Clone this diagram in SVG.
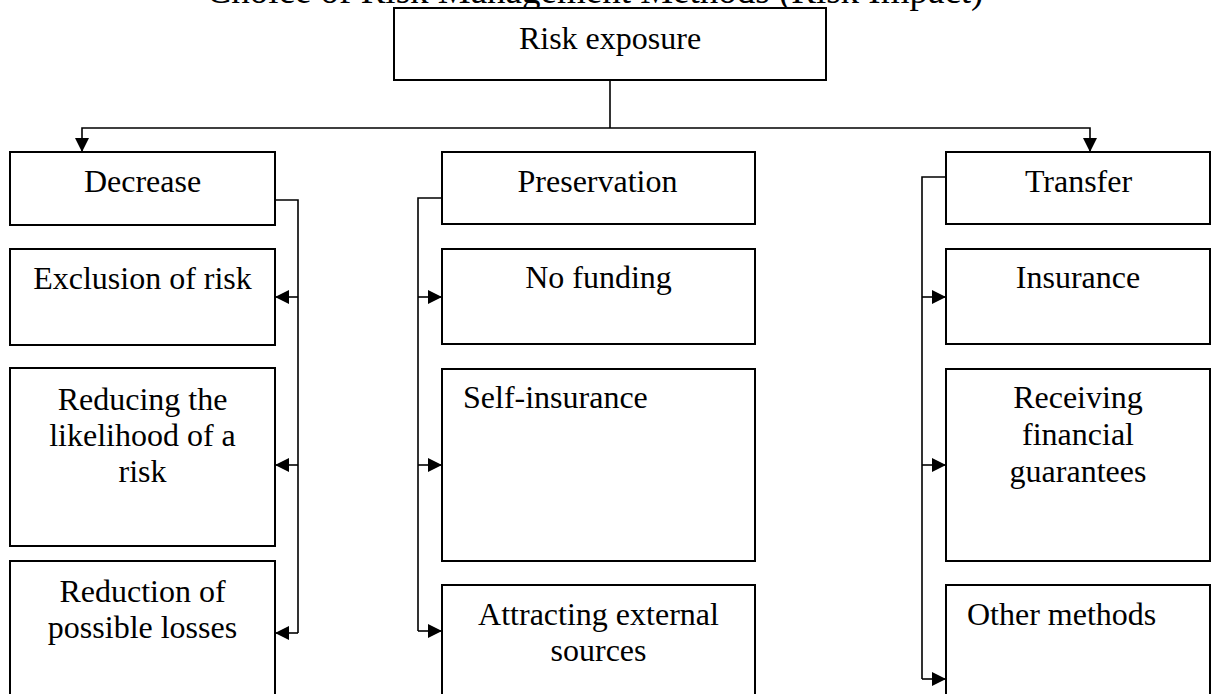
<svg xmlns="http://www.w3.org/2000/svg" width="1213" height="694" viewBox="0 0 1213 694">
  <style>
    .box { fill: #ffffff; stroke: #000000; stroke-width: 2; }
    .lbl { font-family: "Liberation Serif", "Times New Roman", serif; font-size: 32px; fill: #000000; }
    .mid { text-anchor: middle; }
    .title { font-family: "Liberation Serif", "Times New Roman", serif; font-size: 37px; fill: #000000; text-anchor: middle; }
    .wire { fill: none; stroke: #000000; stroke-width: 1.6; }
  </style>
  <defs>
    <marker id="arrow" viewBox="0 0 14 14" refX="14" refY="7" markerWidth="14" markerHeight="14" markerUnits="userSpaceOnUse" orient="auto">
      <path d="M0,0 L14,7 L0,14 Z" fill="#000000"/>
    </marker>
  </defs>
  <rect width="1213" height="694" fill="#ffffff"/>

  <text class="title" x="595" y="3">Choice of Risk Management Methods (Risk Impact)</text>

  <g id="connectors">
    <path class="wire" d="M610,80 V128"/>
    <path class="wire" d="M610,128 H82 V152" marker-end="url(#arrow)"/>
    <path class="wire" d="M610,128 H1090 V152" marker-end="url(#arrow)"/>

    <path class="wire" d="M275,200 H298 V633"/>
    <path class="wire" d="M298,297 H275" marker-end="url(#arrow)"/>
    <path class="wire" d="M298,465 H275" marker-end="url(#arrow)"/>
    <path class="wire" d="M298,633 H275" marker-end="url(#arrow)"/>

    <path class="wire" d="M442,198 H418 V631"/>
    <path class="wire" d="M418,297 H442" marker-end="url(#arrow)"/>
    <path class="wire" d="M418,465 H442" marker-end="url(#arrow)"/>
    <path class="wire" d="M418,631 H442" marker-end="url(#arrow)"/>

    <path class="wire" d="M946,177 H922 V679"/>
    <path class="wire" d="M922,297 H946" marker-end="url(#arrow)"/>
    <path class="wire" d="M922,465 H946" marker-end="url(#arrow)"/>
    <path class="wire" d="M922,679 H946" marker-end="url(#arrow)"/>
  </g>

  <g id="risk-exposure">
    <rect class="box" x="394" y="8" width="432" height="72"/>
    <text class="lbl mid" x="610" y="49">Risk exposure</text>
  </g>

  <g id="decrease">
    <rect class="box" x="10" y="152" width="265" height="73"/>
    <text class="lbl mid" x="142.5" y="192">Decrease</text>
  </g>
  <g id="preservation">
    <rect class="box" x="442" y="152" width="313" height="72"/>
    <text class="lbl mid" x="597.5" y="192">Preservation</text>
  </g>
  <g id="transfer">
    <rect class="box" x="946" y="152" width="264" height="72"/>
    <text class="lbl mid" x="1078.5" y="192">Transfer</text>
  </g>

  <g id="exclusion">
    <rect class="box" x="10" y="249" width="265" height="96"/>
    <text class="lbl mid" x="142.5" y="289">Exclusion of risk</text>
  </g>
  <g id="reducing-likelihood">
    <rect class="box" x="10" y="368" width="265" height="178"/>
    <text class="lbl mid" x="142.5" y="410">Reducing the</text>
    <text class="lbl mid" x="142.5" y="446">likelihood of a</text>
    <text class="lbl mid" x="142.5" y="482">risk</text>
  </g>
  <g id="reduction-losses">
    <rect class="box" x="10" y="561" width="265" height="150"/>
    <text class="lbl mid" x="142.5" y="602">Reduction of</text>
    <text class="lbl mid" x="142.5" y="637.5">possible losses</text>
  </g>

  <g id="no-funding">
    <rect class="box" x="442" y="249" width="313" height="95"/>
    <text class="lbl mid" x="598.5" y="288">No funding</text>
  </g>
  <g id="self-insurance">
    <rect class="box" x="442" y="369" width="313" height="192"/>
    <text class="lbl" x="463" y="408">Self-insurance</text>
  </g>
  <g id="attracting">
    <rect class="box" x="442" y="585" width="313" height="126"/>
    <text class="lbl mid" x="598.5" y="625">Attracting external</text>
    <text class="lbl mid" x="598.5" y="661">sources</text>
  </g>

  <g id="insurance">
    <rect class="box" x="946" y="249" width="264" height="95"/>
    <text class="lbl mid" x="1078" y="288">Insurance</text>
  </g>
  <g id="guarantees">
    <rect class="box" x="946" y="369" width="264" height="192"/>
    <text class="lbl mid" x="1078" y="408">Receiving</text>
    <text class="lbl mid" x="1078" y="445">financial</text>
    <text class="lbl mid" x="1078" y="481.5">guarantees</text>
  </g>
  <g id="other-methods">
    <rect class="box" x="946" y="585" width="264" height="126"/>
    <text class="lbl" x="967" y="625">Other methods</text>
  </g>
</svg>
